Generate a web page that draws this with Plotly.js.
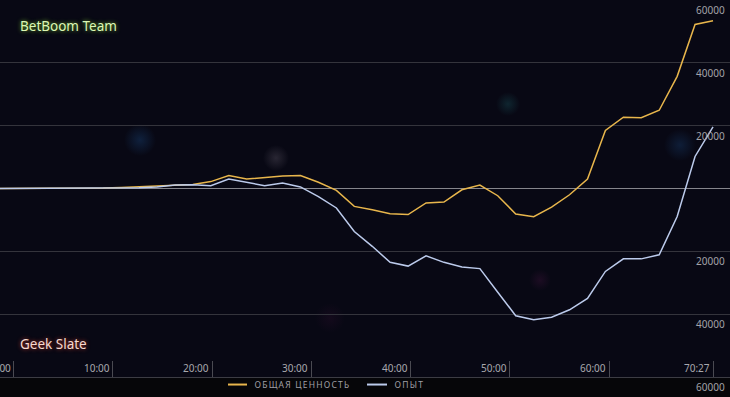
<!DOCTYPE html>
<html>
<head>
<meta charset="utf-8">
<script src="https://cdn.plot.ly/plotly-3.0.1.min.js"></script>
<style>
html,body{margin:0;padding:0;background:#060609;}
#chart{width:730px;height:397px;}
</style>
</head>
<body>
<div id="chart"></div>
<script>
// game time in minutes for each sample (first one is pre-game)
const timeMin = [-1.5, 0, 1.81, 3.61, 5.42, 7.23, 9.03, 10.84, 12.64, 14.45, 16.26,
  18.06, 19.87, 21.68, 23.48, 25.29, 27.10, 28.90, 30.71, 32.52, 34.32,
  36.13, 37.93, 39.74, 41.55, 43.35, 45.16, 46.97, 48.77, 50.58, 52.39,
  54.19, 56.00, 57.81, 59.61, 61.42, 63.22, 65.03, 66.84, 68.64, 70.45];

// net worth advantage (positive = BetBoom Team)
const netWorth = [0, 0, 0, 0, 0, 50, 150, 350, 600, 800, 1100,
  1300, 2200, 4100, 3000, 3500, 4000, 4150, 2000, -600, -5700,
  -6800, -8000, -8300, -4600, -4300, -400, 1100, -2300, -8100, -9000,
  -5900, -2000, 3000, 18500, 22700, 22500, 24900, 35700, 52200, 53400];

// experience advantage
const experience = [0, 0, 0, 0, 0, 0, 50, 100, 200, 450, 1100,
  1200, 900, 3000, 2050, 900, 1750, 500, -2600, -6200, -13700,
  -18400, -23500, -24700, -21400, -23500, -25000, -25500, -33000, -40500, -41800,
  -41000, -38600, -35000, -26400, -22400, -22400, -21100, -8900, 10200, 19600];

const seriesNames = ['ОБЩАЯ ЦЕННОСТЬ', 'ОПЫТ'];
const seriesColors = ['#e8b64c', '#bccbec'];
const teamTop = 'BetBoom Team';
const teamBottom = 'Geek Slate';

const xTickVals = [0, 10, 20, 30, 40, 50, 60, 70.45];
const xTickText = ['0:00', '10:00', '20:00', '30:00', '40:00', '50:00', '60:00', '70:27'];

const yGridVals = [60000, 40000, 20000, 0, -20000, -40000, -60000];
const yLabelVals = [60000, 40000, 20000, -20000, -40000, -60000];
const yLabelText = ['60000', '40000', '20000', '20000', '40000', '60000'];

const FONT = 'Noto Sans, Open Sans, sans-serif';
const W = 730;
const LETTER_SP = 1.2;

const traces = [
  {x: timeMin, y: netWorth, name: seriesNames[0], type: 'scatter', mode: 'lines',
   line: {color: seriesColors[0], width: 1.5}, hoverinfo: 'skip'},
  {x: timeMin, y: experience, name: seriesNames[1], type: 'scatter', mode: 'lines',
   line: {color: seriesColors[1], width: 1.5}, hoverinfo: 'skip'}
];

const annotations = [];
// right-side value labels (absolute values, below each grid line)
yLabelVals.forEach((v, i) => annotations.push({
  xref: 'paper', yref: 'y', x: 1, y: v, xanchor: 'right', yanchor: 'top',
  xshift: -3, yshift: -1, showarrow: false, text: yLabelText[i],
  font: {family: FONT, size: 10, color: '#a2a2a8'}
}));
// time labels, left of each tick mark, above the axis
xTickVals.forEach((v, i) => annotations.push({
  xref: 'x', yref: 'paper', x: v, y: 0, xanchor: 'right', yanchor: 'bottom',
  xshift: -1, yshift: 0, showarrow: false, text: xTickText[i],
  font: {family: FONT, size: 10, color: '#a8a8ae'}
}));
// team names
annotations.push({
  xref: 'paper', yref: 'paper', x: 18 / W, y: 0.93, xanchor: 'left', yanchor: 'middle',
  showarrow: false, text: teamTop,
  font: {family: FONT, size: 13.5, color: '#dcf7b4', shadow: '0px 0px 4px #6fae2c'}
});
annotations.push({
  xref: 'paper', yref: 'paper', x: 18 / W, y: 0.088, xanchor: 'left', yanchor: 'middle',
  showarrow: false, text: teamBottom,
  font: {family: FONT, size: 13.5, color: '#f6d9cf', shadow: '0px 0px 4px #b8382a'}
});
// custom legend texts
const legendTextX = [253, 393];
const legendLineX = [[228, 247], [367, 387]];
const legendY = -0.02;
seriesNames.forEach((n, i) => annotations.push({
  xref: 'paper', yref: 'paper', x: legendTextX[i] / W, y: legendY,
  xshift: n.length * LETTER_SP / 2,
  xanchor: 'left', yanchor: 'middle', showarrow: false, text: n,
  font: {family: FONT, size: 8.5, color: '#a0a0a6'}
}));

const shapes = seriesNames.map((n, i) => ({
  type: 'line', xref: 'paper', yref: 'paper',
  x0: legendLineX[i][0] / W, x1: legendLineX[i][1] / W, y0: legendY, y1: legendY,
  line: {color: seriesColors[i], width: 2}
}));

// faint background glows
function glow(color, op) {
  const svg = "<svg xmlns='http://www.w3.org/2000/svg' width='100' height='100'>" +
    "<defs><radialGradient id='g'><stop offset='0' stop-color='" + color + "' stop-opacity='" + op + "'/>" +
    "<stop offset='1' stop-color='" + color + "' stop-opacity='0'/></radialGradient></defs>" +
    "<circle cx='50' cy='50' r='50' fill='url(#g)'/></svg>";
  return 'data:image/svg+xml;utf8,' + encodeURIComponent(svg);
}
const glows = [
  {cx: 140, cy: 140, r: 16, c: '#1d4f8a', o: 0.35},
  {cx: 276, cy: 158, r: 13, c: '#8a8090', o: 0.25},
  {cx: 508, cy: 104, r: 12, c: '#1f6a70', o: 0.3},
  {cx: 680, cy: 145, r: 16, c: '#1d4f8a', o: 0.3},
  {cx: 540, cy: 280, r: 11, c: '#5a1a50', o: 0.25},
  {cx: 330, cy: 318, r: 15, c: '#4a1440', o: 0.18}
];
const images = glows.map(g => ({
  source: glow(g.c, g.o), xref: 'paper', yref: 'paper',
  x: (g.cx - g.r) / W, y: 1 - (g.cy - g.r) / 377, sizex: 2 * g.r / W, sizey: 2 * g.r / 377,
  xanchor: 'left', yanchor: 'top', sizing: 'stretch', layer: 'below'
}));

const layout = {
  width: 730, height: 397,
  margin: {l: 0, r: 0, t: 0, b: 20, pad: 0, autoexpand: false},
  paper_bgcolor: '#060609',
  plot_bgcolor: '#080814',
  showlegend: false,
  xaxis: {
    range: [-1.36, 72.16], tickvals: xTickVals, showticklabels: false,
    showgrid: false, zeroline: false, showline: true, linecolor: '#3c3c44', linewidth: 1,
    ticks: 'inside', ticklen: 16, tickcolor: '#4a4a52', tickwidth: 1, fixedrange: true
  },
  yaxis: {
    range: [-60000, 60000], tickvals: yGridVals, showticklabels: false,
    showgrid: true, gridcolor: '#34343c', gridwidth: 1,
    zeroline: true, zerolinecolor: '#85858c', zerolinewidth: 1,
    showline: false, fixedrange: true
  },
  annotations: annotations,
  shapes: shapes,
  images: images
};

Plotly.newPlot('chart', traces, layout, {displayModeBar: false, staticPlot: true}).then(gd => {
  gd.querySelectorAll('.annotation-text').forEach(t => {
    if (seriesNames.indexOf(t.textContent) >= 0) t.style.letterSpacing = LETTER_SP + 'px';
  });
});
</script>
</body>
</html>
